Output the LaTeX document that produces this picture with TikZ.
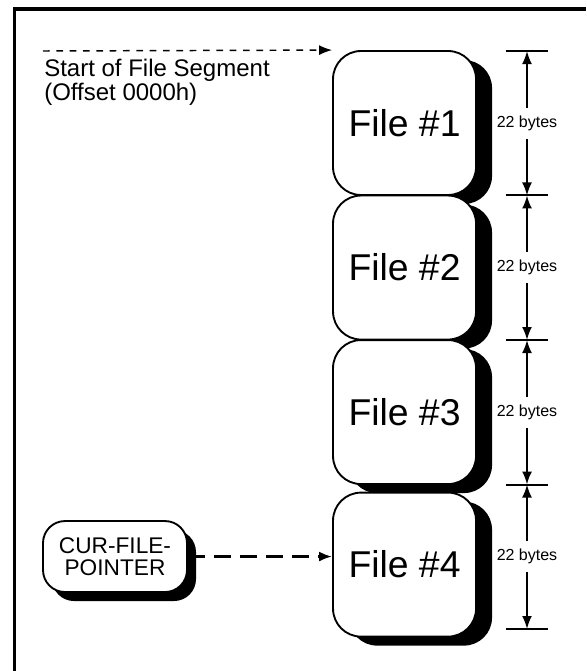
\documentclass[tikz,border=0pt]{standalone}
\usepackage{fontspec}
\setmainfont{Liberation Sans}
\usepackage{tikz}
\usetikzlibrary{shapes,arrows,arrows.meta,calc,shadows,positioning}

\begin{document}
\begin{tikzpicture}[node distance=108.4pt,
  >={Latex[length=9.75pt,width=7.5pt]},
  font=\fontsize{18pt}{18pt}\selectfont]
\tikzset{filebox/.style = {draw, rectangle, line width=1.4pt,
  rounded corners=21pt, fill=white, inner sep=0pt,
  minimum width=107.25pt, minimum height=108pt,
  font=\fontsize{28pt}{28pt}\selectfont,
  drop shadow={shadow xshift=12pt, shadow yshift=-6.75pt,
    fill=black, opacity=1}}}
\tikzset{ptrbox/.style = {draw, rectangle, line width=1.4pt,
  rounded corners=16.5pt, fill=white, inner sep=0pt, align=center,
  minimum width=108pt, minimum height=53.25pt,
  font=\fontsize{17pt}{16.5pt}\selectfont,
  drop shadow={shadow xshift=6.75pt, shadow yshift=-6.75pt,
    fill=black, opacity=1}}}
\tikzset{dimlabel/.style = {fill=white, inner xsep=1pt, inner ysep=6pt,
  font=\fontsize{12pt}{12pt}\selectfont}}

  \useasboundingbox (0,0) rectangle (439.5pt,-503.25pt);

  % frame, only top and left edge in view
  \draw[line width=2.5pt] (10.75pt,-503.25pt) |- (439.5pt,-6.75pt);

  % the file records, one after the other
  \node[filebox] (file1) at (303.4pt,-92.25pt) {File \#1};
  \node[filebox, below of=file1] (file2) {File \#2};
  \node[filebox, below of=file2] (file3) {File \#3};
  \node[filebox, node distance=114.4pt, below of=file3] (file4) 
    {File \#4};

  \node[ptrbox] (curptr) at (86.25pt,-417.4pt) {CUR-FILE-\\POINTER};

  % start of segment
  \coordinate (segstart) at (32.25pt,-38.25pt);
  \draw[->, line width=1.1pt, dash pattern=on 5pt off 5pt] 
    (segstart) -- (file1.north west);
  \node[anchor=north west, inner sep=0pt, align=left] (segtext)
    at (33pt,-44.25pt) {Start of File Segment\\(Offset 0000h)};

  % pointer to the current record
  \draw[->, line width=2pt, dash pattern=on 12.75pt off 6.75pt]
    (curptr.east) -- (curptr.east -| file4.west);

  % record sizes
  \coordinate (d0) at (395.25pt,-38.25pt);
  \coordinate (d1) at (395.25pt,-146.6pt);
  \coordinate (d2) at (395.25pt,-255pt);
  \coordinate (d3) at (395.25pt,-363.4pt);
  \coordinate (d4) at (395.25pt,-471.75pt);

  \draw[line width=1.5pt] ($(d0)+(-16pt,0)$) -- ($(d0)+(16pt,0)$);
  \draw[line width=1.5pt] ($(d1)+(-16pt,0)$) -- ($(d1)+(16pt,0)$);
  \draw[line width=1.5pt] ($(d2)+(-16pt,0)$) -- ($(d2)+(16pt,0)$);
  \draw[line width=1.5pt] ($(d3)+(-16pt,0)$) -- ($(d3)+(16pt,0)$);
  \draw[line width=1.5pt] ($(d4)+(-16pt,0)$) -- ($(d4)+(16pt,0)$);

  \draw[<->, line width=1.5pt] (d0) -- node[dimlabel]{22 bytes} (d1);
  \draw[<->, line width=1.5pt] (d1) -- node[dimlabel]{22 bytes} (d2);
  \draw[<->, line width=1.5pt] (d2) -- node[dimlabel]{22 bytes} (d3);
  \draw[<->, line width=1.5pt] (d3) -- node[dimlabel]{22 bytes} (d4);

\end{tikzpicture}
\end{document}
